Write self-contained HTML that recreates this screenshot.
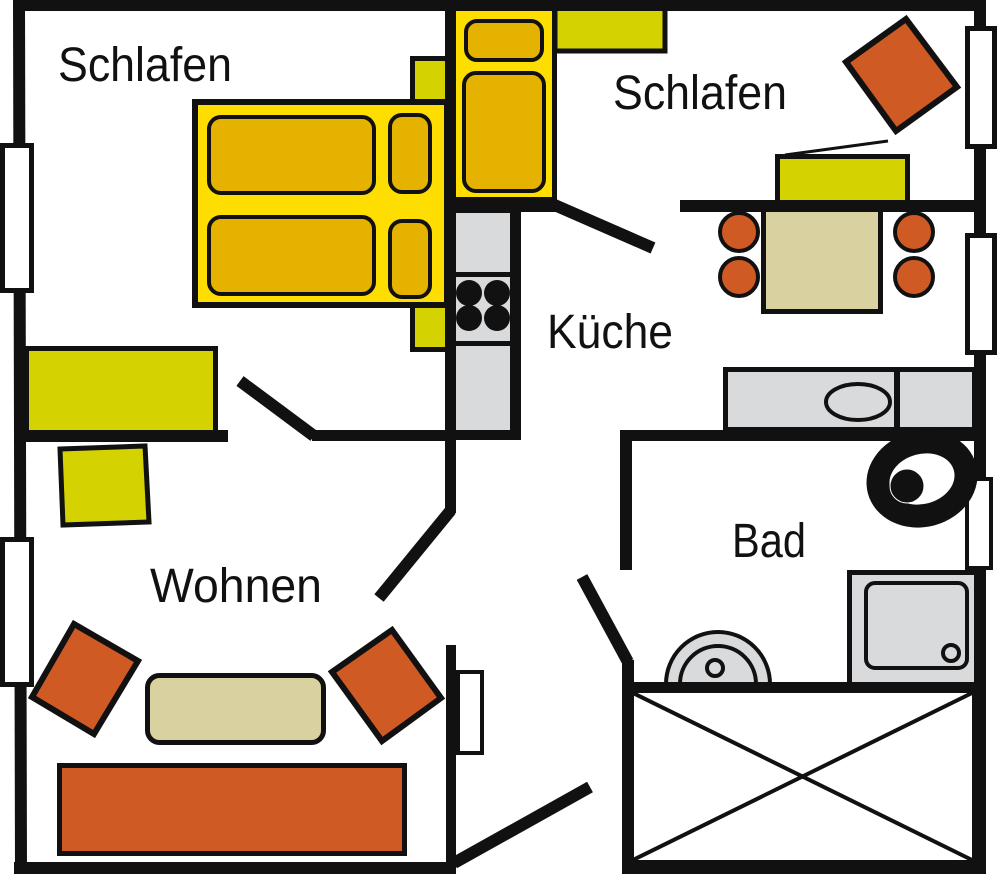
<!DOCTYPE html>
<html><head><meta charset="utf-8"><style>
html,body{margin:0;padding:0;background:#fff;}
svg{display:block;}
text{font-family:"Liberation Sans",sans-serif;font-size:48px;fill:#111;}
</style></head><body>
<svg width="998" height="874" viewBox="0 0 998 874" xmlns="http://www.w3.org/2000/svg">
<rect x="0" y="0" width="998" height="874" fill="#fff"/>

<!-- Left Schlafen: nightstands, bed -->
<rect x="412.5" y="58.5" width="40" height="45" fill="#D4D200" stroke="#111" stroke-width="5"/>
<rect x="412.5" y="302" width="40" height="47.5" fill="#D4D200" stroke="#111" stroke-width="5"/>
<rect x="195" y="102" width="252" height="203" fill="#FEDE00" stroke="#111" stroke-width="6"/>
<rect x="209" y="117" width="165" height="76" rx="12" fill="#E5B200" stroke="#111" stroke-width="4"/>
<rect x="390" y="115" width="40" height="77" rx="12" fill="#E5B200" stroke="#111" stroke-width="4"/>
<rect x="209" y="217" width="165" height="77" rx="12" fill="#E5B200" stroke="#111" stroke-width="4"/>
<rect x="390" y="221" width="40" height="76" rx="12" fill="#E5B200" stroke="#111" stroke-width="4"/>
<!-- cabinet -->
<rect x="26.5" y="348.5" width="189" height="84" fill="#D4D200" stroke="#111" stroke-width="5"/>

<!-- Right Schlafen bed -->
<rect x="456" y="11" width="97" height="187" fill="#FEDE00"/>
<rect x="552" y="0" width="5" height="212" fill="#111"/>
<rect x="466" y="21" width="76" height="39" rx="11" fill="#E5B200" stroke="#111" stroke-width="4"/>
<rect x="464" y="73" width="80" height="118" rx="12" fill="#E5B200" stroke="#111" stroke-width="4"/>
<!-- shelf -->
<rect x="555" y="8" width="110" height="43" fill="#D4D200" stroke="#111" stroke-width="5"/>
<!-- chair tilted -->
<polygon points="846,62 906,19 957,87 896,131" fill="#D05A24" stroke="#111" stroke-width="6" stroke-linejoin="miter"/>
<line x1="785" y1="155" x2="888" y2="141" stroke="#111" stroke-width="3"/>
<!-- desk -->
<rect x="777.5" y="156.5" width="130" height="50" fill="#D4D200" stroke="#111" stroke-width="5"/>

<!-- Kitchen chairs & table -->
<circle cx="739" cy="232" r="19" fill="#D05A24" stroke="#111" stroke-width="4"/>
<circle cx="739" cy="277" r="19" fill="#D05A24" stroke="#111" stroke-width="4"/>
<circle cx="914" cy="232" r="19" fill="#D05A24" stroke="#111" stroke-width="4"/>
<circle cx="914" cy="277" r="19" fill="#D05A24" stroke="#111" stroke-width="4"/>
<rect x="763.5" y="207" width="117" height="104.5" fill="#D9D2A0" stroke="#111" stroke-width="5"/>

<!-- Kitchen counter left -->
<rect x="456" y="212" width="65" height="228" fill="#111"/>
<rect x="456" y="213" width="54" height="217" fill="#D9DADC"/>
<rect x="456" y="272" width="54" height="5" fill="#111"/>
<rect x="456" y="341" width="54" height="5" fill="#111"/>
<circle cx="469" cy="293" r="13" fill="#111"/>
<circle cx="497" cy="293" r="13" fill="#111"/>
<circle cx="469" cy="318" r="13" fill="#111"/>
<circle cx="497" cy="318" r="13" fill="#111"/>

<!-- Kitchen counter right -->
<rect x="725.5" y="369.5" width="249" height="60" fill="#D9DADC" stroke="#111" stroke-width="5"/>
<rect x="894" y="367" width="6" height="63" fill="#111"/>
<ellipse cx="858" cy="402" rx="32" ry="18" fill="#D9DADC" stroke="#111" stroke-width="4"/>

<!-- Wohnen furniture -->
<polygon points="60,449 145,446 149,522 63,525" fill="#D4D200" stroke="#111" stroke-width="5"/>
<polygon points="74,624 138,661 94,734 32,697" fill="#D05A24" stroke="#111" stroke-width="6"/>
<polygon points="332,672 392,630 441,698 382,741" fill="#D05A24" stroke="#111" stroke-width="6"/>
<rect x="147.5" y="675.5" width="176" height="67" rx="12" fill="#D9D2A0" stroke="#111" stroke-width="5"/>
<rect x="59.5" y="765.5" width="345" height="88" fill="#D05A24" stroke="#111" stroke-width="5"/>

<!-- Bath fixtures -->
<rect x="849.5" y="572.5" width="130" height="115" fill="#D9DADC" stroke="#111" stroke-width="5"/>
<rect x="866" y="583" width="101" height="85" rx="9" fill="#D9DADC" stroke="#111" stroke-width="4"/>
<circle cx="951" cy="653" r="8" fill="#D9DADC" stroke="#111" stroke-width="4"/>
<path d="M666,684 A52,52 0 0 1 770,684 Z" fill="#D9DADC" stroke="#111" stroke-width="4"/>
<path d="M680,684 A38,38 0 0 1 756,684" fill="none" stroke="#111" stroke-width="4"/>
<circle cx="715" cy="668" r="8" fill="#D9DADC" stroke="#111" stroke-width="4"/>

<!-- Walls -->
<g fill="#111">
<rect x="13" y="0" width="973" height="11"/>
<polygon points="13,0 25,0 27,874 15,874"/>
<rect x="14" y="862" width="442" height="12"/>
<rect x="974" y="0" width="12" height="874"/>
<rect x="445" y="0" width="11" height="513"/>
<rect x="446" y="645" width="10" height="229"/>
<rect x="14" y="430" width="214" height="12"/>
<rect x="312" y="430" width="144" height="11"/>
<rect x="445" y="197" width="112" height="15"/>
<rect x="680" y="200" width="306" height="12"/>
<rect x="620" y="430" width="366" height="11"/>
<rect x="620" y="430" width="12" height="140"/>
<rect x="622" y="660" width="12" height="214"/>
<rect x="622" y="682" width="364" height="11"/>
<rect x="622" y="860" width="364" height="14"/>
<rect x="972" y="682" width="14" height="192"/>
</g>
<g stroke="#111" stroke-width="12" fill="none">
<line x1="451" y1="510" x2="379" y2="598"/>
<line x1="240" y1="381" x2="314" y2="436"/>
<line x1="550" y1="203" x2="653" y2="248"/>
<line x1="582" y1="577" x2="628" y2="662"/>
<line x1="454" y1="863" x2="590" y2="787"/>
</g>
<!-- box X -->
<line x1="633" y1="693" x2="972" y2="860" stroke="#111" stroke-width="4"/>
<line x1="972" y1="693" x2="633" y2="860" stroke="#111" stroke-width="4"/>

<!-- Windows -->
<g fill="#fff" stroke="#111">
<rect x="2.5" y="145.5" width="29" height="145" stroke-width="5"/>
<rect x="2.5" y="539.5" width="29" height="145" stroke-width="5"/>
<rect x="967.5" y="28.5" width="27" height="118" stroke-width="5"/>
<rect x="967.5" y="235.5" width="27" height="117" stroke-width="5"/>
<rect x="967" y="479" width="24" height="89" stroke-width="4"/>
<rect x="458" y="672" width="24" height="81" stroke-width="4"/>
</g>

<!-- Toilet -->
<ellipse cx="922" cy="479" rx="56" ry="48" transform="rotate(-15 922 479)" fill="#111"/>
<ellipse cx="922" cy="479" rx="33" ry="25" transform="rotate(-15 922 479)" fill="#fff"/>
<circle cx="907" cy="486" r="17" fill="#111" stroke="#fff" stroke-width="1"/>

<!-- Labels -->
<text x="58" y="81" textLength="174" lengthAdjust="spacingAndGlyphs">Schlafen</text>
<text x="613" y="109" textLength="174" lengthAdjust="spacingAndGlyphs">Schlafen</text>
<text x="547" y="348" textLength="126" lengthAdjust="spacingAndGlyphs">Küche</text>
<text x="150" y="602" textLength="172" lengthAdjust="spacingAndGlyphs">Wohnen</text>
<text x="732" y="557" textLength="74" lengthAdjust="spacingAndGlyphs">Bad</text>
</svg>
</body></html>
